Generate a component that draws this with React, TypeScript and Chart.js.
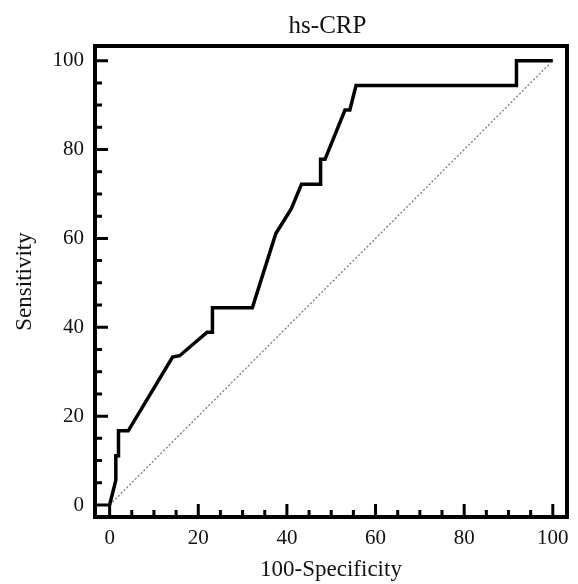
import React, { useEffect, useRef } from "react";
import { Chart, registerables } from "chart.js";

Chart.register(...registerables);

// ROC curve for hs-CRP: 100-Specificity (x) vs Sensitivity (y)
const fprValues = [0, 1.4, 1.4, 2.0, 2.0, 4.2, 14.2, 15.8, 22.0, 23.2, 23.2, 32.2, 37.5, 41.0, 43.3, 47.6, 47.6, 48.6, 53.1, 54.2, 55.6, 91.8, 91.8, 100];
const tprValues = [0, 5.6, 11.1, 11.1, 16.7, 16.7, 33.3, 33.6, 38.9, 38.9, 44.4, 44.4, 61.1, 66.7, 72.2, 72.2, 77.8, 77.8, 88.9, 88.9, 94.4, 94.4, 100, 100];

// chance (reference) diagonal
const diagX = [0, 100];
const diagY = [0, 100];

const majorTicks = [0, 20, 40, 60, 80, 100];
const minorTicks = [5, 10, 15, 25, 30, 35, 45, 50, 55, 65, 70, 75, 85, 90, 95];

const FONT = "'Liberation Serif', 'Times New Roman', serif";
const TEXT = "#111";

const titleShiftPlugin = {
  id: "titleShift",
  afterLayout(chart: any) {
    const tb = chart.titleBlock;
    if (tb) {
      tb.left -= 7;
    }
  },
};

const frameTicksPlugin = {
  id: "frameTicks",
  afterDatasetsDraw(chart: any) {
    const { ctx, chartArea, scales } = chart;
    const { left, right, top, bottom } = chartArea;
    const xs = scales.x;
    const ys = scales.y;
    ctx.save();
    ctx.strokeStyle = "#000";
    ctx.lineWidth = 3;
    ctx.lineCap = "butt";
    ctx.beginPath();
    majorTicks.forEach((v) => {
      const px = xs.getPixelForValue(v);
      ctx.moveTo(px, bottom);
      ctx.lineTo(px, bottom - 13);
      const py = ys.getPixelForValue(v);
      ctx.moveTo(left, py);
      ctx.lineTo(left + 13, py);
    });
    minorTicks.forEach((v) => {
      const px = xs.getPixelForValue(v);
      ctx.moveTo(px, bottom);
      ctx.lineTo(px, bottom - 7);
      const py = ys.getPixelForValue(v);
      ctx.moveTo(left, py);
      ctx.lineTo(left + 7, py);
    });
    ctx.stroke();
    ctx.lineWidth = 4;
    ctx.lineJoin = "miter";
    ctx.strokeRect(left, top, right - left, bottom - top);
    ctx.restore();
  },
};

export default function App() {
  const canvasRef = useRef<HTMLCanvasElement | null>(null);

  useEffect(() => {
    if (!canvasRef.current) return;
    const chart = new Chart(canvasRef.current, {
      type: "scatter",
      data: {
        datasets: [
          {
            label: "Reference",
            data: diagX.map((x, i) => ({ x, y: diagY[i] })),
            showLine: true,
            borderColor: "#6f6f6f",
            borderWidth: 1.2,
            borderDash: [2, 2],
            pointRadius: 0,
            fill: false,
          },
          {
            label: "hs-CRP",
            data: fprValues.map((x, i) => ({ x, y: tprValues[i] })),
            showLine: true,
            borderColor: "#000",
            borderWidth: 3.5,
            pointRadius: 0,
            fill: false,
            tension: 0,
            borderJoinStyle: "miter",
          },
        ],
      },
      options: {
        animation: false,
        responsive: false,
        maintainAspectRatio: false,
        layout: { padding: { left: 0, right: 11, top: 0, bottom: 0 } },
        plugins: {
          legend: { display: false },
          tooltip: { enabled: false },
          title: {
            display: true,
            text: "hs-CRP",
            fullSize: false,
            color: TEXT,
            font: { family: FONT, size: 25, weight: "normal" },
            padding: { top: 11.6, bottom: 4.4 },
          },
        },
        scales: {
          x: {
            type: "linear",
            min: -3.3,
            max: 103.2,
            grid: { display: false, drawTicks: false },
            border: { display: false },
            afterBuildTicks: (scale: any) => {
              scale.ticks = majorTicks.map((v) => ({ value: v }));
            },
            afterFit: (scale: any) => {
              scale.height = 67;
            },
            ticks: {
              padding: 9,
              color: TEXT,
              font: { family: FONT, size: 21 },
              maxRotation: 0,
            },
            title: {
              display: true,
              text: "100-Specificity",
              color: TEXT,
              font: { family: FONT, size: 23 },
              padding: { top: 0, bottom: 0 },
            },
          },
          y: {
            type: "linear",
            min: -2.7,
            max: 103.3,
            grid: { display: false, drawTicks: false },
            border: { display: false },
            afterBuildTicks: (scale: any) => {
              scale.ticks = majorTicks.map((v) => ({ value: v }));
            },
            afterFit: (scale: any) => {
              scale.width = 95;
            },
            ticks: {
              padding: 11,
              color: TEXT,
              font: { family: FONT, size: 21 },
            },
            title: {
              display: true,
              text: "Sensitivity",
              color: TEXT,
              font: { family: FONT, size: 23 },
              padding: { top: 11.4, bottom: 0 },
            },
          },
        },
      },
      plugins: [titleShiftPlugin, frameTicksPlugin],
    });
    return () => chart.destroy();
  }, []);

  return (
    <div style={{ position: "fixed", left: 0, top: 0, width: 578, height: 584, background: "#fff" }}>
      <canvas ref={canvasRef} width={578} height={584} style={{ width: 578, height: 584, display: "block" }} />
    </div>
  );
}
